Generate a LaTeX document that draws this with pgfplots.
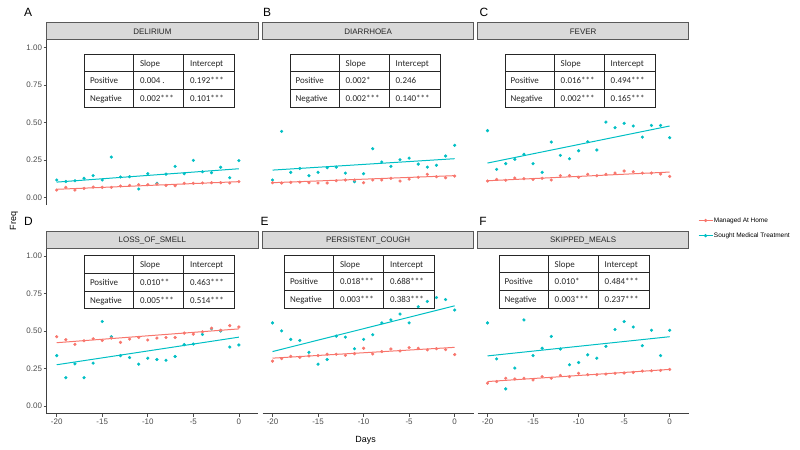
\documentclass[border=0pt]{standalone}
\usepackage{pgfplots}
\pgfplotsset{compat=1.18}
\usepackage{pgfplotstable}
\usepackage{fontspec}
\setmainfont{Liberation Sans}
\newfontfamily\calfont{Carlito}
\definecolor{home}{HTML}{F8766D}
\definecolor{sought}{HTML}{00BFC4}
\definecolor{stripfill}{HTML}{D9D9D9}
\definecolor{stripdraw}{HTML}{595959}
\definecolor{axgray}{HTML}{4D4D4D}

\pgfplotstableread{
x home sought
-20 0.051 0.118
-19 0.069 0.108
-18 0.051 0.113
-17 0.062 0.129
-16 0.071 0.147
-15 0.069 0.118
-14 0.069 0.271
-13 0.078 0.138
-12 0.082 0.140
-11 0.087 0.058
-10 0.087 0.160
-9 0.091 0.096
-8 0.082 0.157
-7 0.080 0.209
-6 0.096 0.160
-5 0.096 0.249
-4 0.098 0.173
-3 0.100 0.167
-2 0.100 0.203
-1 0.098 0.133
0 0.107 0.247
}\dataA
\pgfplotstableread{
x home sought
-20 0.100 0.118
-19 0.098 0.442
-18 0.102 0.169
-17 0.104 0.195
-16 0.100 0.147
-15 0.098 0.169
-14 0.098 0.200
-13 0.113 0.204
-12 0.118 0.164
-11 0.118 0.107
-10 0.100 0.160
-9 0.118 0.327
-8 0.118 0.238
-7 0.129 0.209
-6 0.111 0.253
-5 0.124 0.264
-4 0.136 0.224
-3 0.156 0.204
-2 0.140 0.216
-1 0.133 0.278
0 0.144 0.349
}\dataB
\pgfplotstableread{
x home sought
-20 0.111 0.447
-19 0.122 0.189
-18 0.116 0.227
-17 0.131 0.256
-16 0.127 0.289
-15 0.122 0.227
-14 0.129 0.169
-13 0.118 0.371
-12 0.147 0.282
-11 0.147 0.260
-10 0.136 0.313
-9 0.156 0.373
-8 0.147 0.318
-7 0.156 0.504
-6 0.164 0.467
-5 0.178 0.496
-4 0.173 0.478
-3 0.164 0.404
-2 0.164 0.482
-1 0.158 0.482
0 0.142 0.400
}\dataC
\pgfplotstableread{
x home sought
-20 0.462 0.336
-19 0.442 0.189
-18 0.411 0.281
-17 0.435 0.189
-16 0.448 0.286
-15 0.437 0.563
-14 0.453 0.462
-13 0.424 0.336
-12 0.446 0.323
-11 0.457 0.279
-10 0.440 0.319
-9 0.453 0.310
-8 0.457 0.305
-7 0.457 0.330
-6 0.486 0.409
-5 0.479 0.413
-4 0.495 0.477
-3 0.519 0.515
-2 0.505 0.500
-1 0.536 0.393
0 0.527 0.407
}\dataD
\pgfplotstableread{
x home sought
-20 0.299 0.554
-19 0.316 0.501
-18 0.332 0.444
-17 0.325 0.437
-16 0.334 0.358
-15 0.336 0.279
-14 0.345 0.310
-13 0.345 0.466
-12 0.338 0.459
-11 0.349 0.382
-10 0.385 0.444
-9 0.347 0.475
-8 0.363 0.554
-7 0.380 0.574
-6 0.367 0.613
-5 0.389 0.554
-4 0.385 0.662
-3 0.374 0.697
-2 0.382 0.723
-1 0.376 0.710
0 0.343 0.640
}\dataE
\pgfplotstableread{
x home sought
-20 0.152 0.554
-19 0.163 0.314
-18 0.185 0.114
-17 0.180 0.253
-16 0.185 0.574
-15 0.174 0.336
-14 0.196 0.385
-13 0.185 0.464
-12 0.204 0.380
-11 0.196 0.275
-10 0.218 0.290
-9 0.209 0.341
-8 0.209 0.319
-7 0.213 0.398
-6 0.218 0.510
-5 0.220 0.563
-4 0.224 0.527
-3 0.233 0.402
-2 0.235 0.505
-1 0.237 0.336
0 0.244 0.505
}\dataF

\pgfplotsset{
 panel/.style={
  scale only axis, width=211.3bp, height=165bp, anchor=north west,
  xmin=-21.1, xmax=2.1, ymin=-0.05, ymax=1.05,
  xtick={-20,-15,-10,-5,0}, xticklabels={-20,-15,-10,-5,0},
  ytick={0,0.25,0.5,0.75,1}, yticklabels={0.00,0.25,0.50,0.75,1.00},
  tick align=outside, major tick length=3bp,
  tick style={axgray, line width=0.6bp},
  axis line style={-, black!75, line width=0.6bp},
  tick label style={font=\fontsize{8}{9}\selectfont, text=axgray},
  yticklabel style={inner sep=1.5bp},
  xticklabel style={inner sep=2bp},
 },
 pts/.style={only marks, mark=*, mark size=1.4bp, #1, mark options={draw=none, fill=#1}},
 fit/.style={no marks, line width=1bp, #1},
}

\newcommand{\stattab}[6]{%
\begin{scope}[shift={(#1bp,-#2bp)},x=1bp,y=-1bp]
\fill[white] (0,0) rectangle (150,53);
\draw[line width=0.9bp,black!85] (0,0) rectangle (150,53) (0,17.6)--(150,17.6) (0,35.3)--(150,35.3) (49.5,0)--(49.5,53) (99.5,0)--(99.5,53);
\path[every node/.style={anchor=base west,inner sep=0pt,font=\calfont\fontsize{9}{10}\selectfont,text=black!85}]
 (55.5,12) node {Slope} (105.5,12) node {Intercept}
 (5.5,29.6) node {Positive} (55.5,29.6) node {#3} (105.5,29.6) node {#4}
 (5.5,47.3) node {Negative} (55.5,47.3) node {#5} (105.5,47.3) node {#6};
\end{scope}}

\newcommand{\strip}[3]{%
 \draw[fill=stripfill,draw=stripdraw,line width=0.7bp] (#1bp,-#2bp) rectangle ++(211.3bp,-16.8bp);
 \node[anchor=base, inner sep=0pt, font=\fontsize{8}{9}\selectfont, text=black!85] at ([xshift=105.65bp, yshift=-11.3bp]#1bp,-#2bp) {#3};}

\begin{document}
\begin{tikzpicture}
\useasboundingbox (0,0) rectangle (800bp,-450bp);

% panel letters
\path[every node/.style={font=\fontsize{12}{14}\selectfont}]
 (28bp,-12.5bp) node {A} (267bp,-12.5bp) node {B} (484bp,-12.5bp) node {C}
 (28.5bp,-221.5bp) node {D} (264.5bp,-221.5bp) node {E} (483bp,-221.5bp) node {F};

% strips
\strip{46.7}{22.7}{DELIRIUM}
\strip{262.5}{22.7}{DIARRHOEA}
\strip{477.5}{22.7}{FEVER}
\strip{46.7}{231.5}{LOSS\_OF\_SMELL}
\strip{262.5}{231.5}{PERSISTENT\_COUGH}
\strip{477.5}{231.5}{SKIPPED\_MEALS}

% tables
\stattab{84.3}{54.3}{0.004 .}{0.192***}{0.002***}{0.101***}
\stattab{290}{54.3}{0.002*}{0.246}{0.002***}{0.140***}
\stattab{505}{54.3}{0.016***}{0.494***}{0.002***}{0.165***}
\stattab{84.3}{255.7}{0.010**}{0.463***}{0.005***}{0.514***}
\stattab{284.3}{255}{0.018***}{0.688***}{0.003***}{0.383***}
\stattab{499}{255}{0.010*}{0.484***}{0.003***}{0.237***}

% A
\begin{axis}[panel, at={(46.7bp,-40.2bp)}, axis y line*=left, axis x line=none, xtick=\empty]
\addplot[pts=sought] table[x=x,y=sought]{\dataA};
\addplot[pts=home] table[x=x,y=home]{\dataA};
\addplot[fit=sought] coordinates {(-20,0.104) (0,0.193)};
\addplot[fit=home] coordinates {(-20,0.056) (0,0.107)};
\end{axis}
% B
\begin{axis}[panel, at={(262.5bp,-40.2bp)}, hide axis]
\addplot[pts=sought] table[x=x,y=sought]{\dataB};
\addplot[pts=home] table[x=x,y=home]{\dataB};
\addplot[fit=sought] coordinates {(-20,0.184) (0,0.260)};
\addplot[fit=home] coordinates {(-20,0.100) (0,0.147)};
\end{axis}
% C
\begin{axis}[panel, at={(477.5bp,-40.2bp)}, hide axis]
\addplot[pts=sought] table[x=x,y=sought]{\dataC};
\addplot[pts=home] table[x=x,y=home]{\dataC};
\addplot[fit=sought] coordinates {(-20,0.231) (0,0.478)};
\addplot[fit=home] coordinates {(-20,0.113) (0,0.171)};
\end{axis}
% D
\begin{axis}[panel, at={(46.7bp,-248.5bp)}, axis y line*=left, axis x line*=bottom]
\addplot[pts=sought] table[x=x,y=sought]{\dataD};
\addplot[pts=home] table[x=x,y=home]{\dataD};
\addplot[fit=sought] coordinates {(-20,0.275) (0,0.459)};
\addplot[fit=home] coordinates {(-20,0.422) (0,0.514)};
\end{axis}
% E
\begin{axis}[panel, at={(262.5bp,-248.5bp)}, axis x line*=bottom, axis y line=none, ytick=\empty]
\addplot[pts=sought] table[x=x,y=sought]{\dataE};
\addplot[pts=home] table[x=x,y=home]{\dataE};
\addplot[fit=sought] coordinates {(-20,0.363) (0,0.668)};
\addplot[fit=home] coordinates {(-20,0.319) (0,0.391)};
\end{axis}
% F
\begin{axis}[panel, at={(477.5bp,-248.5bp)}, axis x line*=bottom, axis y line=none, ytick=\empty,
  legend style={at={(1.0435,1.124)}, anchor=west, draw=none, fill=none, inner sep=0pt,
    font=\fontsize{6.5}{7}\selectfont, row sep=7bp, nodes={inner sep=1bp}},
  legend cell align=left,
  legend image code/.code={\draw[mark repeat=2,mark phase=2,#1] plot coordinates {(0bp,0bp) (7bp,0bp) (14bp,0bp)};}]
\addlegendimage{home, line width=0.8bp, mark=*, mark size=1.2bp, mark options={draw=none, fill=home}}
\addlegendentry{Managed At Home}
\addlegendimage{sought, line width=0.8bp, mark=*, mark size=1.2bp, mark options={draw=none, fill=sought}}
\addlegendentry{Sought Medical Treatment}
\addplot[pts=sought, forget plot] table[x=x,y=sought]{\dataF};
\addplot[pts=home, forget plot] table[x=x,y=home]{\dataF};
\addplot[fit=sought, forget plot] coordinates {(-20,0.334) (0,0.462)};
\addplot[fit=home, forget plot] coordinates {(-20,0.163) (0,0.244)};
\end{axis}

\node[rotate=90, font=\fontsize{9}{10}\selectfont] at (14bp,-221bp) {Freq};
\node[font=\fontsize{9}{10}\selectfont] at (365.7bp,-440.7bp) {Days};
\end{tikzpicture}
\end{document}
